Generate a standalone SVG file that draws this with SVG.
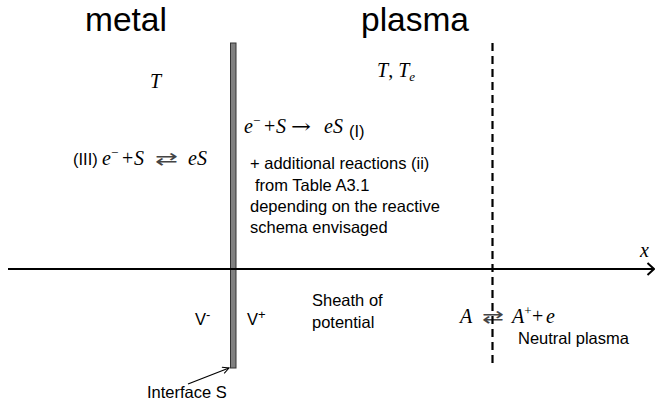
<svg xmlns="http://www.w3.org/2000/svg" width="655" height="405" viewBox="0 0 655 405">
<style>
.sans{font-family:"Liberation Sans",Arial,sans-serif;font-size:16.5px;fill:#000}
.big{font-size:33.5px}
.m{font-family:"Liberation Serif","Times New Roman",serif;font-style:italic;font-size:20px;fill:#000}
.n{font-style:normal}
.sup{font-size:13px}
.ar{font-family:"DejaVu Sans",sans-serif;font-size:18px;fill:#444}
.ra{font-family:"DejaVu Serif","DejaVu Sans",serif;font-size:20px;fill:#000}
.ln{stroke:#000;fill:none}
</style>
<defs>
<marker id="open" viewBox="0 0 10 10" refX="9" refY="5" markerWidth="8" markerHeight="8" orient="auto" markerUnits="userSpaceOnUse">
<path d="M1,1 L9,5 L1,9" fill="none" stroke="#000" stroke-width="1.3"/>
</marker>
</defs>
<rect width="655" height="405" fill="#fff"/>

<g id="metal">
<text class="sans big" x="85" y="31">metal</text>
<text class="m" x="150" y="88">T</text>
<text class="sans" x="73" y="165">(III)</text>
<text class="m" x="102" y="165">e<tspan class="sup n" dy="-8">−</tspan><tspan class="n" x="122" dy="8">+</tspan><tspan x="134">S</tspan></text>
<text class="ar" x="155" y="165" textLength="23" lengthAdjust="spacingAndGlyphs">⇄</text>
<text class="m" x="188" y="165">eS</text>
<text class="sans" x="195" y="325">V<tspan class="sup" dy="-6">-</tspan></text>
</g>

<g id="interface">
<rect x="230.5" y="43" width="5.5" height="325" fill="#808080" stroke="#333" stroke-width="1"/>
<text class="sans" x="147" y="398" font-size="18">Interface S</text>
</g>

<g id="plasma">
<text class="sans big" x="361" y="31">plasma</text>
<text class="m" x="377" y="77">T<tspan class="n">, </tspan>T<tspan class="sup" dy="4">e</tspan></text>
<text class="m" x="244" y="133">e<tspan class="sup n" dy="-8">−</tspan><tspan class="n" x="264" dy="8">+</tspan><tspan x="276">S</tspan></text>
<text class="ra" x="291" y="133" textLength="20" lengthAdjust="spacingAndGlyphs">→</text>
<text class="m" x="324" y="133">eS</text>
<text class="sans" x="349" y="137" font-size="15">(I)</text>
<text class="sans" x="250" y="169" font-size="17">+ additional reactions (ii)</text>
<text class="sans" x="255" y="191" font-size="17">from Table A3.1</text>
<text class="sans" x="250" y="212" font-size="17">depending on the reactive</text>
<text class="sans" x="250" y="233" font-size="17">schema envisaged</text>
<text class="sans" x="247" y="325">V<tspan class="sup" dy="-6">+</tspan></text>
<text class="sans" x="312" y="306">Sheath of</text>
<text class="sans" x="312" y="328">potential</text>
<text class="m" x="460" y="323">A</text>
<text class="ar" x="482" y="323" textLength="22" lengthAdjust="spacingAndGlyphs">⇄</text>
<text class="m" x="512" y="323">A<tspan class="sup n" dy="-8">+</tspan><tspan class="n" x="532" dy="8">+</tspan><tspan x="546">e</tspan></text>
<text class="sans" x="518" y="344">Neutral plasma</text>
</g>

<g id="connectors">
<line class="ln" x1="8" y1="269" x2="654" y2="269" stroke-width="2"/>
<polyline class="ln" points="647.5,263 654,269 647.5,275" stroke-width="2"/>
<text class="m" x="640" y="257">x</text>
<line class="ln" x1="492.5" y1="43" x2="492.5" y2="368" stroke-width="2.2" stroke-dasharray="8,5"/>
<line class="ln" x1="188" y1="384" x2="229" y2="368" stroke-width="1.3" marker-end="url(#open)"/>
</g>
</svg>
